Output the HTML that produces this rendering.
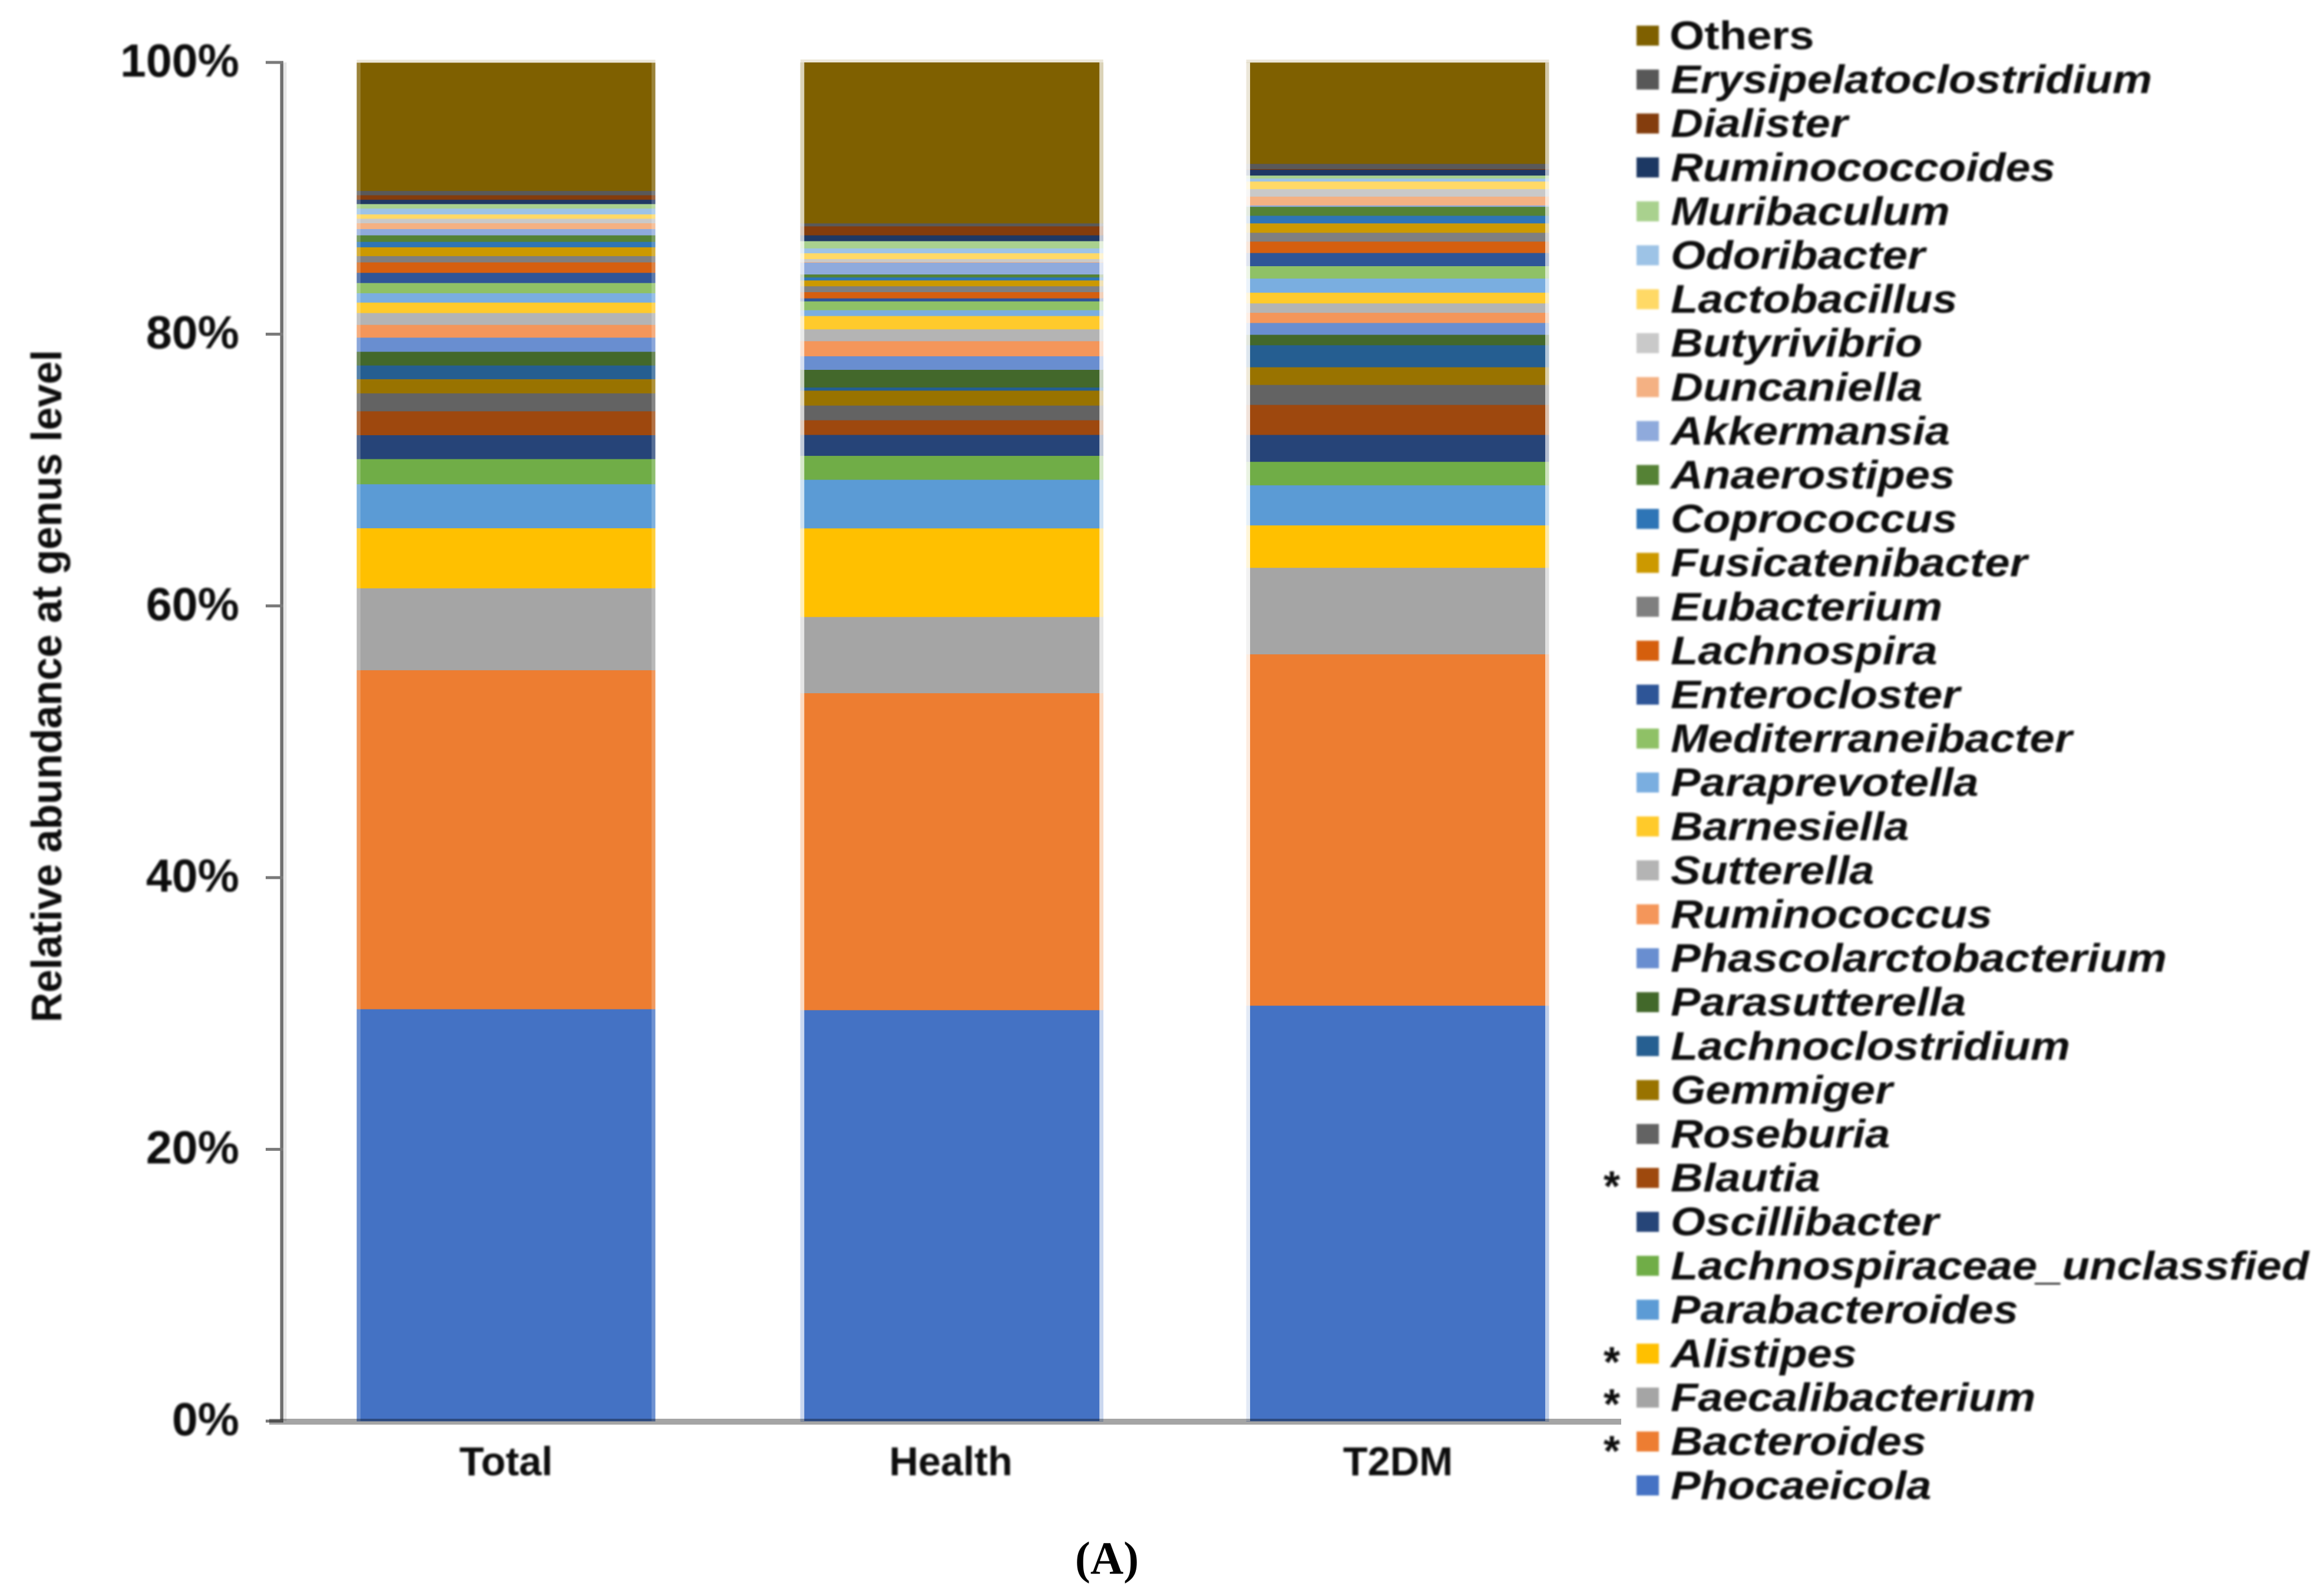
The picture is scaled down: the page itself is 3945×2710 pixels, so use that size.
<!DOCTYPE html>
<html lang="en">
<head>
<meta charset="utf-8">
<title>Relative abundance at genus level</title>
<style>
  html, body { margin: 0; padding: 0; background: #fff; }
  svg { display: block; }
  text { font-family: "Liberation Sans", Arial, sans-serif; fill: #0d0d0d; }
  .leg { font-size: 68px; font-weight: 700; font-style: italic; }
  .leg-plain { font-size: 68px; font-weight: 700; }
  .cat { font-size: 68.5px; font-weight: 700; text-anchor: middle; }
  .tick { font-size: 79px; font-weight: 700; text-anchor: end; }
  .star { font-size: 72px; font-weight: 700; text-anchor: middle; }
</style>
</head>
<body>
<svg id="chart" xmlns="http://www.w3.org/2000/svg" width="3945" height="2710" viewBox="0 0 3945 2710">
  <defs>
    <filter id="soft" x="-5%" y="-5%" width="110%" height="110%"><feGaussianBlur stdDeviation="1.6"/></filter>
  </defs>
  <rect width="3945" height="2710" fill="#ffffff"/>
  <g id="bars"></g>
  <g id="axes"></g>

  <g filter="url(#soft)">
    <g id="tick-labels"></g>
    <text transform="translate(104,1165) rotate(-90)" text-anchor="middle" font-size="72" font-weight="700" textLength="1142" lengthAdjust="spacingAndGlyphs">Relative abundance at genus level</text>
    <text class="cat" x="859" y="2505">Total</text>
    <text class="cat" x="1614" y="2505">Health</text>
    <text class="cat" x="2373" y="2505">T2DM</text>

    <g transform="translate(0,-2.5)">
      <g transform="translate(0,63)"><rect x="2778" y="-17" width="38" height="34" fill="#7F6000"/><text class="leg-plain" transform="translate(2834,23) scale(1.12,1)">Others</text></g>
      <g transform="translate(0,137.6)"><rect x="2778" y="-17" width="38" height="34" fill="#595959"/><text class="leg" transform="translate(2836,23) scale(1.115,1)">Erysipelatoclostridium</text></g>
      <g transform="translate(0,212.2)"><rect x="2778" y="-17" width="38" height="34" fill="#843C0C"/><text class="leg" transform="translate(2836,23) scale(1.12,1)">Dialister</text></g>
      <g transform="translate(0,286.8)"><rect x="2778" y="-17" width="38" height="34" fill="#1F3864"/><text class="leg" transform="translate(2836,23) scale(1.115,1)">Ruminococcoides</text></g>
      <g transform="translate(0,361.4)"><rect x="2778" y="-17" width="38" height="34" fill="#A9D18E"/><text class="leg" transform="translate(2836,23) scale(1.12,1)">Muribaculum</text></g>
      <g transform="translate(0,436)"><rect x="2778" y="-17" width="38" height="34" fill="#9DC3E6"/><text class="leg" transform="translate(2836,23) scale(1.12,1)">Odoribacter</text></g>
      <g transform="translate(0,510.6)"><rect x="2778" y="-17" width="38" height="34" fill="#FFD966"/><text class="leg" transform="translate(2836,23) scale(1.12,1)">Lactobacillus</text></g>
      <g transform="translate(0,585.2)"><rect x="2778" y="-17" width="38" height="34" fill="#C9C9C9"/><text class="leg" transform="translate(2836,23) scale(1.12,1)">Butyrivibrio</text></g>
      <g transform="translate(0,659.8)"><rect x="2778" y="-17" width="38" height="34" fill="#F4B183"/><text class="leg" transform="translate(2836,23) scale(1.12,1)">Duncaniella</text></g>
      <g transform="translate(0,734.4)"><rect x="2778" y="-17" width="38" height="34" fill="#8FAADC"/><text class="leg" transform="translate(2836,23) scale(1.12,1)">Akkermansia</text></g>
      <g transform="translate(0,809)"><rect x="2778" y="-17" width="38" height="34" fill="#548235"/><text class="leg" transform="translate(2836,23) scale(1.12,1)">Anaerostipes</text></g>
      <g transform="translate(0,883.6)"><rect x="2778" y="-17" width="38" height="34" fill="#2E75B6"/><text class="leg" transform="translate(2836,23) scale(1.12,1)">Coprococcus</text></g>
      <g transform="translate(0,958.2)"><rect x="2778" y="-17" width="38" height="34" fill="#CC9900"/><text class="leg" transform="translate(2836,23) scale(1.12,1)">Fusicatenibacter</text></g>
      <g transform="translate(0,1032.8)"><rect x="2778" y="-17" width="38" height="34" fill="#7F7F7F"/><text class="leg" transform="translate(2836,23) scale(1.12,1)">Eubacterium</text></g>
      <g transform="translate(0,1107.4)"><rect x="2778" y="-17" width="38" height="34" fill="#D55F0F"/><text class="leg" transform="translate(2836,23) scale(1.12,1)">Lachnospira</text></g>
      <g transform="translate(0,1182)"><rect x="2778" y="-17" width="38" height="34" fill="#2F5597"/><text class="leg" transform="translate(2836,23) scale(1.12,1)">Enterocloster</text></g>
      <g transform="translate(0,1256.6)"><rect x="2778" y="-17" width="38" height="34" fill="#8FC166"/><text class="leg" transform="translate(2836,23) scale(1.12,1)">Mediterraneibacter</text></g>
      <g transform="translate(0,1331.2)"><rect x="2778" y="-17" width="38" height="34" fill="#7AAEE0"/><text class="leg" transform="translate(2836,23) scale(1.115,1)">Paraprevotella</text></g>
      <g transform="translate(0,1405.8)"><rect x="2778" y="-17" width="38" height="34" fill="#FFCA2C"/><text class="leg" transform="translate(2836,23) scale(1.115,1)">Barnesiella</text></g>
      <g transform="translate(0,1480.4)"><rect x="2778" y="-17" width="38" height="34" fill="#B4B4B4"/><text class="leg" transform="translate(2836,23) scale(1.115,1)">Sutterella</text></g>
      <g transform="translate(0,1555)"><rect x="2778" y="-17" width="38" height="34" fill="#F4965A"/><text class="leg" transform="translate(2836,23) scale(1.12,1)">Ruminococcus</text></g>
      <g transform="translate(0,1629.6)"><rect x="2778" y="-17" width="38" height="34" fill="#698ED0"/><text class="leg" transform="translate(2836,23) scale(1.12,1)">Phascolarctobacterium</text></g>
      <g transform="translate(0,1704.2)"><rect x="2778" y="-17" width="38" height="34" fill="#43682B"/><text class="leg" transform="translate(2836,23) scale(1.115,1)">Parasutterella</text></g>
      <g transform="translate(0,1778.8)"><rect x="2778" y="-17" width="38" height="34" fill="#255E91"/><text class="leg" transform="translate(2836,23) scale(1.115,1)">Lachnoclostridium</text></g>
      <g transform="translate(0,1853.4)"><rect x="2778" y="-17" width="38" height="34" fill="#997300"/><text class="leg" transform="translate(2836,23) scale(1.12,1)">Gemmiger</text></g>
      <g transform="translate(0,1928)"><rect x="2778" y="-17" width="38" height="34" fill="#636363"/><text class="leg" transform="translate(2836,23) scale(1.12,1)">Roseburia</text></g>
      <g transform="translate(0,2002.6)"><text class="star" x="2736" y="39">*</text><rect x="2778" y="-17" width="38" height="34" fill="#9E480E"/><text class="leg" transform="translate(2836,23) scale(1.12,1)">Blautia</text></g>
      <g transform="translate(0,2077.2)"><rect x="2778" y="-17" width="38" height="34" fill="#264478"/><text class="leg" transform="translate(2836,23) scale(1.115,1)">Oscillibacter</text></g>
      <g transform="translate(0,2151.8)"><rect x="2778" y="-17" width="38" height="34" fill="#70AD47"/><text class="leg" transform="translate(2836,23) scale(1.12,1)">Lachnospiraceae_unclassfied</text></g>
      <g transform="translate(0,2226.4)"><rect x="2778" y="-17" width="38" height="34" fill="#5B9BD5"/><text class="leg" transform="translate(2836,23) scale(1.115,1)">Parabacteroides</text></g>
      <g transform="translate(0,2301)"><text class="star" x="2736" y="39">*</text><rect x="2778" y="-17" width="38" height="34" fill="#FFC000"/><text class="leg" transform="translate(2836,23) scale(1.115,1)">Alistipes</text></g>
      <g transform="translate(0,2375.6)"><text class="star" x="2736" y="36">*</text><rect x="2778" y="-17" width="38" height="34" fill="#A5A5A5"/><text class="leg" transform="translate(2836,23) scale(1.115,1)">Faecalibacterium</text></g>
      <g transform="translate(0,2450.2)"><text class="star" x="2736" y="41">*</text><rect x="2778" y="-17" width="38" height="34" fill="#ED7D31"/><text class="leg" transform="translate(2836,23) scale(1.115,1)">Bacteroides</text></g>
      <g transform="translate(0,2524.8)"><rect x="2778" y="-17" width="38" height="34" fill="#4472C4"/><text class="leg" transform="translate(2836,23) scale(1.115,1)">Phocaeicola</text></g>
    </g>
  </g>

  <text x="1879" y="2672" text-anchor="middle" font-size="78" font-weight="700" style="font-family:'Liberation Serif',serif;fill:#000">(A)</text>
</svg>

<script>
// Genera, stacked bottom to top
const genera = ["Phocaeicola","Bacteroides","Faecalibacterium","Alistipes","Parabacteroides","Lachnospiraceae_unclassfied","Oscillibacter","Blautia","Roseburia","Gemmiger","Lachnoclostridium","Parasutterella","Phascolarctobacterium","Ruminococcus","Sutterella","Barnesiella","Paraprevotella","Mediterraneibacter","Enterocloster","Lachnospira","Eubacterium","Fusicatenibacter","Coprococcus","Anaerostipes","Akkermansia","Duncaniella","Butyrivibrio","Lactobacillus","Odoribacter","Muribaculum","Ruminococcoides","Dialister","Erysipelatoclostridium","Others"];
const genusColors = ["#4472C4","#ED7D31","#A5A5A5","#FFC000","#5B9BD5","#70AD47","#264478","#9E480E","#636363","#997300","#255E91","#43682B","#698ED0","#F4965A","#B4B4B4","#FFCA2C","#7AAEE0","#8FC166","#2F5597","#D55F0F","#7F7F7F","#CC9900","#2E75B6","#548235","#8FAADC","#F4B183","#C9C9C9","#FFD966","#9DC3E6","#A9D18E","#1F3864","#843C0C","#595959","#7F6000"];
const categories = ["Total","Health","T2DM"];
const totalValues = [30.33,24.95,6.03,4.42,3.24,1.85,1.76,1.76,1.32,1.04,1.01,1.01,1.04,0.94,0.87,0.77,0.69,0.75,0.75,0.77,0.46,0.65,0.40,0.48,0.46,0.43,0.33,0.32,0.43,0.33,0.32,0.33,0.32,9.42];
const healthValues = [30.26,23.33,5.61,6.52,3.58,1.76,1.54,1.08,1.08,1.10,0.23,1.30,1.00,1.11,0.87,0.98,0.43,0.65,0.22,0.46,0.43,0.43,0.22,0.22,0.87,0.04,0.22,0.43,0.36,0.53,0.43,0.66,0.22,11.83];
const t2dmValues = [30.59,25.86,6.37,3.12,2.95,1.73,1.98,2.21,1.47,1.30,1.62,0.77,0.87,0.75,0.69,0.79,1.04,0.91,0.97,0.84,0.65,0.69,0.56,0.66,0.10,0.65,0.55,0.56,0.22,0.22,0.43,0.05,0.38,7.44];
const tickValues = [0,20,40,60,80,100];
const tickLabels = ["0%","20%","40%","60%","80%","100%"];

const seriesByCategory = [totalValues, healthValues, t2dmValues];
const NS = "http://www.w3.org/2000/svg";

// Axis functions
function yScale(v) { return 2413 - v * 23.07; }
function xCenter(i) { return 859 + i * 756.75; }
function barWidth(i) { return i === 0 ? 507 : 514; }
const edgeWidth = 6.5;
const leftEdgeAlpha = [0.22, 0.72, 0.85];
const rightEdgeAlpha = [0.22, 0.72, 0.65];

function slug(s) { return s.toLowerCase().replace(/[^a-z0-9]+/g, "-"); }
function rect(parent, x, y, w, h, fill, opacity) {
  const r = document.createElementNS(NS, "rect");
  r.setAttribute("x", x);
  r.setAttribute("y", y);
  r.setAttribute("width", w);
  r.setAttribute("height", h);
  r.setAttribute("fill", fill);
  if (opacity !== undefined) r.setAttribute("opacity", opacity);
  parent.appendChild(r);
  return r;
}

const barsGroup = document.getElementById("bars");
categories.forEach(function (cat, c) {
  const g = document.createElementNS(NS, "g");
  
  
  barsGroup.appendChild(g);
  const w = barWidth(c);
  const left = xCenter(c) - w / 2;
  const values = seriesByCategory[c];
  let cum = 0;
  values.forEach(function (v, s) {
    const top = yScale(cum + v);
    const bottom = yScale(cum);
    const seg = rect(g, left, top, w, bottom - top + 0.4, genusColors[s]);
    
    
    cum += v;
  });
  const barTop = yScale(cum);
  const barBottom = yScale(0);
  const halo = rect(g, left, barTop - 5, w, 5, genusColors[genusColors.length - 1], 0.15);
  
  
  const leftEdge = rect(g, left, barTop, edgeWidth, barBottom - barTop, "#ffffff", leftEdgeAlpha[c]);
  
  
  const rightEdge = rect(g, left + w - edgeWidth, barTop, edgeWidth, barBottom - barTop, "#ffffff", rightEdgeAlpha[c]);
  
  
});

const axesGroup = document.getElementById("axes");
const axisShadow = rect(axesGroup, 481, yScale(100), 5.5, yScale(0) - yScale(100), "#e6e6e6");


const axisLine = rect(axesGroup, 475.5, yScale(100), 5.5, yScale(0) - yScale(100), "#707070");



const tickLabelGroup = document.getElementById("tick-labels");
tickValues.forEach(function (t, i) {
  const tick = rect(axesGroup, 451, yScale(t) - 2.5, 30, 5, "#7a7a7a");
  
  
  const label = document.createElementNS(NS, "text");
  label.setAttribute("class", "tick");
  label.setAttribute("x", 406);
  label.setAttribute("y", yScale(t) + 24);
  
  
  label.textContent = tickLabels[i];
  tickLabelGroup.appendChild(label);
});

const baseline = rect(axesGroup, 457, 2409, 2295, 10, "#A5A5A5");
baseline.setAttribute("style", "mix-blend-mode:multiply");


</script>
</body>
</html>
